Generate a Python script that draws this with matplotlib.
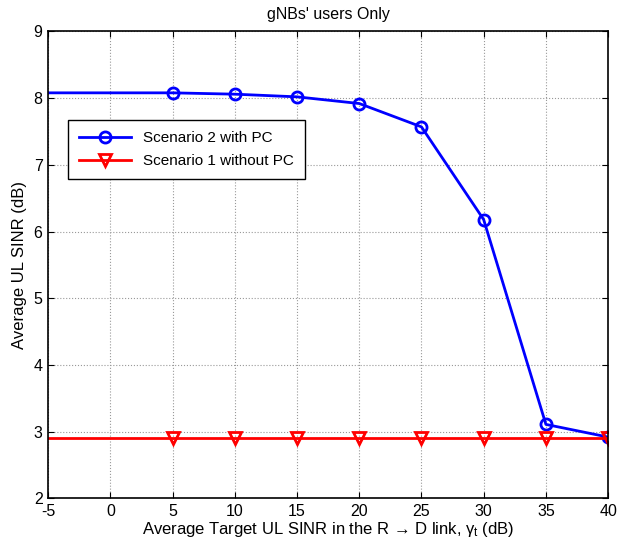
import numpy as np
import matplotlib.pyplot as plt

# data
gamma_t = [-5, 0, 5, 10, 15, 20, 25, 30, 35, 40]
sinr_pc = [8.08, 8.08, 8.08, 8.06, 8.02, 7.92, 7.57, 6.18, 3.11, 2.92]
sinr_nopc = [2.9] * len(gamma_t)
marker_x = [5, 10, 15, 20, 25, 30, 35, 40]

plt.rcParams['font.family'] = ['Liberation Sans', 'DejaVu Sans']
plt.rcParams['mathtext.fontset'] = 'custom'
plt.rcParams['mathtext.rm'] = 'Liberation Sans'
plt.rcParams['mathtext.it'] = 'Liberation Sans'
plt.rcParams['axes.unicode_minus'] = False

fig = plt.figure(figsize=(6.17, 5.52), dpi=100)
ax = fig.add_axes([0.078, 0.097, 0.9076, 0.846])

mk = [gamma_t.index(v) for v in marker_x]
ax.plot(gamma_t, sinr_pc, color='#0000ff', lw=2, marker='o', markevery=mk,
        ms=8, mfc='none', mew=2, label='Scenario 2 with PC')
ax.plot(gamma_t, sinr_nopc, color='#ff0000', lw=2, marker='v', markevery=mk,
        ms=9, mfc='none', mew=2, label='Scenario 1 without PC')

ax.set_xlim(-5, 40)
ax.set_ylim(2, 9)
ax.set_xticks(np.arange(-5, 41, 5))
ax.set_yticks(np.arange(2, 10, 1))
ax.grid(True, color='#999999', linestyle=':', linewidth=0.8)
ax.tick_params(direction='in', top=True, right=True, labelsize=11.5, length=4, pad=4)
for s in ax.spines.values():
    s.set_linewidth(1.2)

ax.set_title("gNBs' users Only", fontsize=11.5, pad=9)
ax.set_ylabel('Average UL SINR (dB)', fontsize=12, labelpad=5)
ax.set_xlabel('Average Target UL SINR in the R \u2192 D link, $\\gamma_{\\mathrm{t}}$ (dB)',
              fontsize=12, labelpad=1)

leg = ax.legend(loc='upper left', bbox_to_anchor=(0.036, 0.81), fontsize=11,
                frameon=True, fancybox=False, edgecolor='black', framealpha=1,
                handlelength=3.4, borderpad=0.7, labelspacing=0.6, borderaxespad=0)
leg.get_frame().set_linewidth(1.0)

fig.savefig('out.png', dpi=100)
